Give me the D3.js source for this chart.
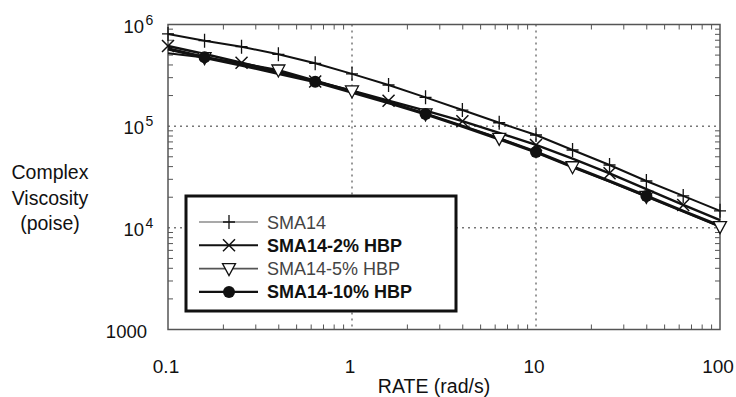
<!DOCTYPE html>
<html>
<head>
<meta charset="utf-8">
<script src="https://cdn.jsdelivr.net/npm/d3@7"></script>
<style>
  body { margin: 0; background: #fff; }
  text { font-family: "Liberation Sans", Arial, sans-serif; fill: #111; }
</style>
</head>
<body>
<div id="root"></div>
<script>
const rates = [0.1, 0.158, 0.251, 0.398, 0.631, 1, 1.58, 2.51, 3.98, 6.31, 10, 15.8, 25.1, 39.8, 63.1, 100]
const sma14 = [8.07e5, 6.93e5, 6.05e5, 5.09e5, 4.15e5, 3.27e5, 2.54e5, 1.92e5, 1.44e5, 1.08e5, 8.19e4, 5.83e4, 4.15e4, 2.89e4, 2.06e4, 1.47e4]
const hbp2 = [6.15e5, 5.13e5, 4.21e5, 3.44e5, 2.75e5, 2.24e5, 1.78e5, 1.42e5, 1.12e5, 8.6e4, 6.53e4, 4.79e4, 3.44e4, 2.4e4, 1.68e4, 1.19e4]
const hbp5 = [5.21e5, 4.73e5, 4.17e5, 3.57e5, 2.82e5, 2.22e5, 1.74e5, 1.32e5, 1.0e5, 7.6e4, 5.56e4, 3.99e4, 2.85e4, 2.04e4, 1.45e4, 1.03e4]
const hbp10 = [5.75e5, 4.75e5, 3.98e5, 3.31e5, 2.74e5, 2.16e5, 1.70e5, 1.32e5, 1.0e5, 7.5e4, 5.57e4, 3.98e4, 2.88e4, 2.06e4, 1.46e4, 1.04e4]
const seriesNames = ['SMA14', 'SMA14-2% HBP', 'SMA14-5% HBP', 'SMA14-10% HBP']
const xTickValues = [0.1, 1, 10, 100]
const xTickLabels = ['0.1', '1', '10', '100']
const yTickValues = [1e6, 1e5, 1e4, 1e3]

const WIDTH = 736
const HEIGHT = 397
const PLOT_LEFT = 168
const PLOT_RIGHT = 720
const PLOT_TOP = 24.5
const PLOT_BOTTOM = 329.5

// which points carry a marker, per series
const series = [
    {name: seriesNames[0], values: sma14, marker: 'plus', width: 2, legendWidth: 1.2, bold: false, shows: (i) => true},
    {name: seriesNames[1], values: hbp2, marker: 'cross', width: 2.4, legendWidth: 2, bold: true, shows: (i) => i % 2 === 0},
    {name: seriesNames[2], values: hbp5, marker: 'tri', width: 2, legendWidth: 1.6, bold: false, shows: (i) => i % 2 === 1},
    {name: seriesNames[3], values: hbp10, marker: 'dot', width: 3.2, legendWidth: 2.4, bold: true, shows: (i) => i % 3 === 1},
]

const svg = d3.select('#root')
    .append('svg')
    .attr('width', WIDTH)
    .attr('height', HEIGHT)

const xScale = d3.scaleLog().domain([0.1, 100]).range([PLOT_LEFT, PLOT_RIGHT])
const yScale = d3.scaleLog().domain([1e3, 1e6]).range([PLOT_BOTTOM, PLOT_TOP])

const minorX = []
for (let d = 0.1; d < 100; d *= 10) for (let k = 2; k <= 9; k++) minorX.push(d * k)
const minorY = []
for (let d = 1e3; d < 1e6; d *= 10) for (let k = 2; k <= 9; k++) minorY.push(d * k)

// grid
const grid = svg.append('g').attr('stroke', '#333').attr('stroke-width', 1).attr('stroke-dasharray', '2,4')
grid.selectAll('.gx').data([1, 10]).enter().append('line')
    .attr('x1', (d) => xScale(d)).attr('x2', (d) => xScale(d))
    .attr('y1', PLOT_TOP).attr('y2', PLOT_BOTTOM)
grid.selectAll('.gy').data([1e5, 1e4]).enter().append('line')
    .attr('y1', (d) => yScale(d)).attr('y2', (d) => yScale(d))
    .attr('x1', PLOT_LEFT).attr('x2', PLOT_RIGHT)

// minor ticks on all four sides, pointing inward
const ticks = svg.append('g').attr('stroke', '#555').attr('stroke-width', 1)
const TL = 5
ticks.selectAll('.tb').data(minorX).enter().append('line')
    .attr('x1', (d) => xScale(d)).attr('x2', (d) => xScale(d))
    .attr('y1', PLOT_BOTTOM).attr('y2', PLOT_BOTTOM - TL)
ticks.selectAll('.tt').data(minorX).enter().append('line')
    .attr('x1', (d) => xScale(d)).attr('x2', (d) => xScale(d))
    .attr('y1', PLOT_TOP).attr('y2', PLOT_TOP + TL)
ticks.selectAll('.tl').data(minorY).enter().append('line')
    .attr('y1', (d) => yScale(d)).attr('y2', (d) => yScale(d))
    .attr('x1', PLOT_LEFT).attr('x2', PLOT_LEFT + TL)
ticks.selectAll('.tr').data(minorY).enter().append('line')
    .attr('y1', (d) => yScale(d)).attr('y2', (d) => yScale(d))
    .attr('x1', PLOT_RIGHT).attr('x2', PLOT_RIGHT - TL)

svg.append('rect')
    .attr('x', PLOT_LEFT).attr('y', PLOT_TOP)
    .attr('width', PLOT_RIGHT - PLOT_LEFT).attr('height', PLOT_BOTTOM - PLOT_TOP)
    .attr('fill', 'none').attr('stroke', '#555').attr('stroke-width', 1.5)

// x labels
svg.selectAll('.xl').data(xTickValues).enter().append('text')
    .attr('x', (d) => xScale(d) - 2).attr('y', 373)
    .attr('text-anchor', 'middle').attr('font-size', 19)
    .text((d, i) => xTickLabels[i])
svg.append('text').attr('x', 434).attr('y', 393).attr('text-anchor', 'middle')
    .attr('font-size', 19.5).text('RATE (rad/s)')

// y labels: mantissa right aligned, exponent sticks out to the right
yTickValues.forEach((d) => {
    const e = Math.round(Math.log10(d))
    const y = yScale(d) + 8
    if (e === 3) {
        svg.append('text').attr('x', 147).attr('y', y).attr('text-anchor', 'end')
            .attr('font-size', 18.5).text('1000')
        return
    }
    svg.append('text').attr('x', 144).attr('y', y).attr('text-anchor', 'end')
        .attr('font-size', 18.5).text('10')
    svg.append('text').attr('x', 145.5).attr('y', y - 8).attr('font-size', 14).text(e)
})

const ylab = svg.append('text').attr('text-anchor', 'middle').attr('font-size', 19.5)
;['Complex', 'Viscosity', '(poise)'].forEach((s, i) => {
    ylab.append('tspan').attr('x', 50).attr('y', 179 + i * 25.5).text(s)
})

// markers
function drawMarker(g, type, x, y) {
    if (type === 'plus') {
        g.append('path').attr('d', `M${x - 6},${y}H${x + 6}M${x},${y - 7}V${y + 7}`)
            .attr('stroke', '#111').attr('stroke-width', 1.3).attr('fill', 'none')
    } else if (type === 'cross') {
        g.append('path').attr('d', `M${x - 6},${y - 6}L${x + 6},${y + 6}M${x - 6},${y + 6}L${x + 6},${y - 6}`)
            .attr('stroke', '#111').attr('stroke-width', 1.5).attr('fill', 'none')
    } else if (type === 'tri') {
        g.append('path').attr('d', `M${x - 6.5},${y - 5}L${x + 6.5},${y - 5}L${x},${y + 7}Z`)
            .attr('stroke', '#111').attr('stroke-width', 1.3).attr('fill', '#fff')
    } else {
        g.append('circle').attr('cx', x).attr('cy', y).attr('r', 6).attr('fill', '#111')
    }
}

const line = d3.line().x((d) => xScale(d[0])).y((d) => yScale(d[1]))
const plot = svg.append('g')
series.forEach((s) => {
    plot.append('path')
        .datum(rates.map((r, i) => [r, s.values[i]]))
        .attr('d', line)
        .attr('fill', 'none').attr('stroke', '#111').attr('stroke-width', s.width)
})
series.forEach((s) => {
    const g = plot.append('g')
    rates.forEach((r, i) => {
        if (s.shows(i)) drawMarker(g, s.marker, xScale(r), yScale(s.values[i]))
    })
})

// legend
const legend = svg.append('g')
legend.append('rect').attr('x', 186).attr('y', 196).attr('width', 270).attr('height', 115)
    .attr('fill', '#fff').attr('stroke', '#111').attr('stroke-width', 3)
series.forEach((s, i) => {
    const y = 222 + i * 23.3
    legend.append('line').attr('x1', 199).attr('x2', 258).attr('y1', y).attr('y2', y)
        .attr('stroke', s.bold ? '#111' : '#555').attr('stroke-width', s.legendWidth)
    drawMarker(legend, s.marker, 229, y)
    legend.append('text').attr('x', 267).attr('y', y + 6.5).attr('font-size', 18)
        .attr('font-weight', s.bold ? 'bold' : 'normal')
        .style('fill', s.bold ? '#111' : '#444')
        .text(s.name)
})
</script>
</body>
</html>
